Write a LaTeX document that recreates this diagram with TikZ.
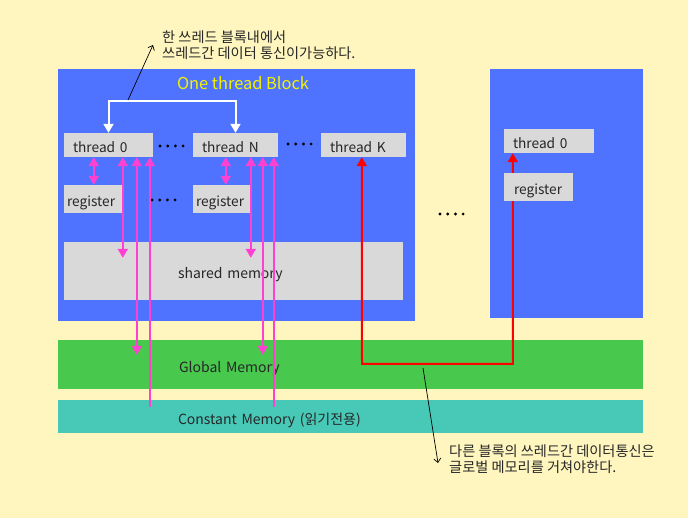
\documentclass[tikz,border=0pt]{standalone}
\usepackage{fontspec}
\setmainfont{Noto Sans CJK KR}
\usetikzlibrary{positioning, arrows.meta}
\definecolor{bgyellow}{HTML}{FFF6BF}
\definecolor{blockblue}{HTML}{4F73FF}
\definecolor{boxgray}{HTML}{D9D9D9}
\definecolor{globalgreen}{HTML}{48C84D}
\definecolor{constteal}{HTML}{48C9B8}
\definecolor{linkpink}{HTML}{FF40D0}
\definecolor{titleyellow}{HTML}{F2F200}

\begin{document}
\begin{tikzpicture}[
  x=1pt, y=-1pt,
  >={Triangle[width=10pt,length=9pt]},
  block/.style={fill=blockblue, inner sep=0pt},
  cell/.style={fill=boxgray, inner ysep=0pt, align=left,
               text height=16pt, text depth=0pt,
               font=\fontsize{13.7}{15}\selectfont, text=black!85},
  membar/.style={inner ysep=0pt, align=left,
                 text height=16pt, text depth=0pt,
                 font=\fontsize{14}{15}\selectfont, text=black!85},
  link/.style={linkpink, line width=2pt},
  redlink/.style={red, line width=2pt},
  whitelink/.style={white, line width=2pt},
  notearr/.style={-{Straight Barb[length=4pt,width=7pt]}, line width=0.7pt, black},
  note/.style={align=left, inner sep=0pt, font=\fontsize{14.2}{16}\selectfont, text=black!85},
]
\fill[bgyellow] (0,0) rectangle (688,518);
\useasboundingbox (0,0) rectangle (688,518);
% blocks and memories
\node[block, minimum width=357pt, minimum height=252pt] (block1) at (236.5,195) {};
\node[block, minimum width=153pt, minimum height=249pt] (block2) at (566.5,193.5) {};
\node[membar, fill=globalgreen, minimum height=49pt, inner xsep=121pt, text width=343pt] (gmem) at (350.5,364.5) {Global Memory};
\node[membar, fill=constteal, minimum height=33pt, inner xsep=120pt, text width=345pt] (cmem) at (350.5,416.5) {Constant Memory (읽기전용)};
\node[text=titleyellow, font=\fontsize{16.4}{18}\selectfont] (title) at (243,83) {One thread Block};
% threads and registers
\node[cell, minimum height=24pt, inner xsep=9pt, text width=71pt] (t0) at (108.5,145) {thread 0};
\node[cell, minimum height=24pt, inner xsep=9pt, text width=67pt] (tN) at (235.5,145) {thread N};
\node[cell, minimum height=24pt, inner xsep=9pt, text width=67pt] (tK) at (363.5,145) {thread K};
\node[cell, minimum height=28pt, inner xsep=3pt, text width=52pt] (reg0) at (93,199) {register};
\node[cell, minimum height=28pt, inner xsep=3pt, text width=51pt] (regN) at (221.5,199) {register};
\node[membar, fill=boxgray, minimum height=58pt, inner xsep=114pt, text width=111pt] (shmem) at (233.5,271) {shared memory};
\node[cell, minimum height=24pt, inner xsep=9pt, text width=72pt] (rt0) at (549,141) {thread 0};
% red path between blocks (behind the right register)
\coordinate (redturn) at (362,364);
\draw[redlink, <->] ([xshift=41pt]tK.south west) -- (redturn) -| ([xshift=9pt]rt0.south west);
\node[cell, minimum height=28pt, inner xsep=10pt, text width=49pt] (rreg) at (538.5,187) {register};
% dots
\foreach \px/\py in {160/146, 288/144, 152/200, 440/214}
  \foreach \k in {0,...,3}
    \fill (\px+7.7*\k, \py) circle (1.6pt);
% thread 0 links
\draw[link, <->] ([xshift=30pt]t0.south west) -- ([xshift=30pt]reg0.north west);
\draw[link, <->] ([xshift=59pt]t0.south west) -- ([xshift=59pt, yshift=-16pt]shmem.north west);
\draw[link, <->] ([xshift=73pt]t0.south west) -- ([xshift=79pt, yshift=-15pt]gmem.north west);
\draw[link, ->] ([xshift=92pt, yshift=-7pt]cmem.north west) -- ([xshift=86pt]t0.south west);
% thread N links
\draw[link, <->] ([xshift=33pt]tN.south west) -- ([xshift=33pt]regN.north west);
\draw[link, <->] ([xshift=58pt]tN.south west) -- ([xshift=187pt, yshift=-16pt]shmem.north west);
\draw[link, <->] ([xshift=70pt]tN.south west) -- ([xshift=205pt, yshift=-15pt]gmem.north west);
\draw[link, ->] ([xshift=216pt, yshift=-7pt]cmem.north west) -- ([xshift=81pt]tN.south west);
% inside one block
\draw[whitelink, <->] (t0.north) -- ++(0,-32) -| (tN.north);
% notes
\node[note, anchor=west] (note1) at (162,45) {한 쓰레드 블록내에서\\쓰레드간 데이터 통신이가능하다.};
\coordinate (note1start) at (128,100);
\draw[notearr] (note1start) -- ([xshift=-9pt]note1.west);
\node[note, anchor=west] (note2) at (449,459) {다른 블록의 쓰레드간 데이터통신은\\글로벌 메모리를 거쳐야한다.};
\coordinate (note2start) at (423,368);
\draw[notearr] (note2start) -- ([xshift=-11pt, yshift=-4pt]note2.west);
\end{tikzpicture}
\end{document}
